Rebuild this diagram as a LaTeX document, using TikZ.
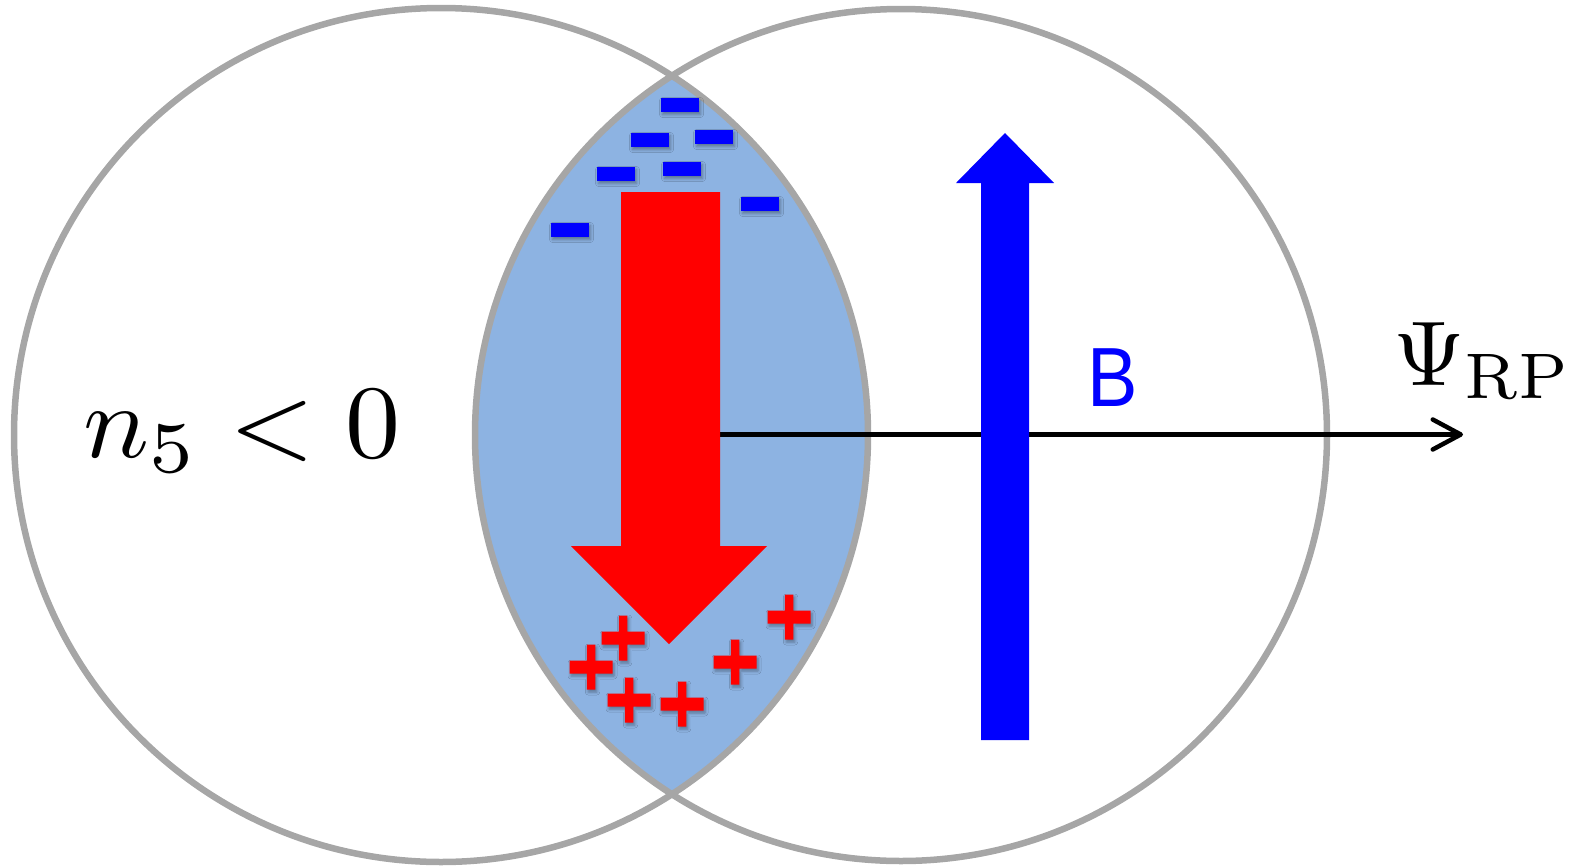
\documentclass[tikz,border=0pt]{standalone}
\usepackage{fontspec}
\newfontfamily\bfont{Liberation Sans}
\usetikzlibrary{arrows.meta,shadows.blur}
\definecolor{lensblue}{RGB}{141,179,226}
\definecolor{ringgray}{RGB}{166,166,166}
\tikzset{
  ring/.style={circle, draw=ringgray, line width=6.5pt, inner sep=0pt, outer sep=0pt},
  softshadow/.style={blur shadow={shadow xshift=1.5pt, shadow yshift=-2.5pt, shadow blur radius=3pt, shadow opacity=35}},
  minussign/.pic={\fill[blue, softshadow] (-19,-7) rectangle (19,7);},
  plussign/.pic={\fill[red, softshadow] (-21.5,-6.5) rectangle (21.5,6.5) (-4.25,-22.5) rectangle (4.25,22.5);},
}
\begin{document}
\begin{tikzpicture}[x=1pt,y=-1pt]
\useasboundingbox (0,0) rectangle (1585,865);
% lens (overlap region)
\begin{scope}
  \clip (441,435) circle[radius=427];
  \fill[lensblue] (901,435) circle[radius=426];
\end{scope}
% nuclei
\node[ring, minimum size=854pt] (L) at (441,435) {};
\node[ring, minimum size=852pt] (R) at (901,435) {};
% reaction plane axis
\coordinate (O) at (671,434.5);
\coordinate (AE) at (1463,434.5);
\draw[line width=4.5pt, -{Straight Barb[length=28pt,width=30pt,round]}] (O) -- (AE);
% red arrow (current)
\fill[red] (621,192) -- (720,192) -- (720,546) -- (767,546) -- (669,644) -- (571,546) -- (621,546) -- cycle;
% blue arrow (B field)
\fill[blue] (981,740) -- (981,183) -- (956,183) -- (1005,133) -- (1054,183) -- (1029,183) -- (1029,740) -- cycle;
% negative charges
\foreach \p in {(680,105),(650,140),(714,137),(616,174),(682,169),(760,204),(570,230)}
  \pic at \p {minussign};
% positive charges
\foreach \p in {(623,638),(591,667),(629,700),(682,704),(735,662),(789,617)}
  \pic at \p {plussign};
% labels
\node[anchor=base west, inner sep=0pt] (n5) at (83,457) {\scalebox{11}[10.4]{$n_5<0$}};
\node[anchor=base west, inner sep=0pt] (Bl) at (1087,406.7) {\scalebox{0.9}[1]{\fontsize{84}{90}\selectfont\bfont\color{blue}B}};
\node[anchor=base west, inner sep=0pt] (psi) at (1393,385) {\scalebox{9.2}{$\Psi_{\mathrm{RP}}$}};
\end{tikzpicture}
\end{document}
